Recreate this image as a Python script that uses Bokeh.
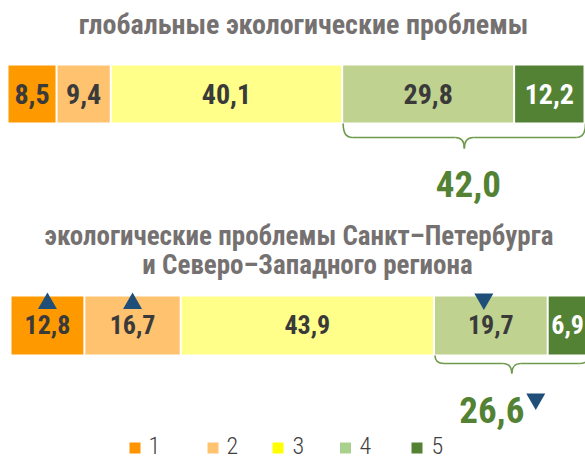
import numpy as np
from bokeh.plotting import figure
from bokeh.models import Range1d, ColumnDataSource
from bokeh.core.properties import value
from bokeh.embed import file_html
from bokeh.resources import INLINE

# ---------------- data ----------------
categories = ["1", "2", "3", "4", "5"]
global_vals = [8.5, 9.4, 40.1, 29.8, 12.2]
spb_vals = [12.8, 16.7, 43.9, 19.7, 6.9]
spb_change = ["up", "up", "", "down", ""]   # change markers for SPb bar
spb_sum_change = "down"
title_global = "глобальные экологические проблемы"
title_spb = ["экологические проблемы Санкт–Петербурга", "и Северо–Западного региона"]

# ---------------- style ----------------
bar_colors = ["#FF9900", "#FFC370", "#FFFF8A", "#BFD290", "#548235"]
legend_colors = ["#FF9400", "#FFC370", "#FFFF00", "#A9D18E", "#548235"]
label_colors = ["#3A3A3A", "#3A3A3A", "#3A3A3A", "#3A3A3A", "#FFFFFF"]
TITLE_C = "#767171"
GREEN = "#548235"
BRACE_C = "#6E9A4C"
ARROW_C = "#1F4E79"
FONT = "Roboto Condensed, Liberation Sans Narrow, DejaVu Sans Condensed, Roboto"
FONT_LIGHT = "Roboto Condensed Light, Roboto Condensed, Roboto"

W, H = 585, 459
X0 = 8                  # left pixel of the 0% mark
ux = 5.77               # pixels per percent
gap = 2 / ux


def fx(px):
    return (px - X0) / ux


def fmt(v):
    return f"{v:.1f}".replace(".", ",")


p = figure(width=W, height=H, x_range=Range1d(-X0 / ux, (W - X0) / ux), y_range=Range1d(H, 0),
           output_backend="svg", toolbar_location=None, min_border=0)
p.axis.visible = False
p.grid.visible = False
p.outline_line_color = None
p.background_fill_color = "white"


def draw_bar(vals, offset, top, bottom, fsize, label_y):
    v = np.array(vals)
    right = np.cumsum(v) + offset
    left = right - v
    src = ColumnDataSource(dict(left=left, right=right - gap, top=[top] * 5, bottom=[bottom] * 5,
                                color=bar_colors, lab=[fmt(x) for x in vals],
                                lc=label_colors, cx=(left + right - gap) / 2, ly=[label_y] * 5))
    p.quad(left="left", right="right", top="top", bottom="bottom", fill_color="color",
           line_color=None, source=src)
    p.text(x="cx", y="ly", text="lab", text_color="lc", text_align="center",
           text_baseline="middle", text_font=value(FONT), text_font_style="bold",
           text_font_size=fsize, source=src)
    return left, right


def draw_brace(x0, x1, ytop, ymid, ytip):
    r = 9 / ux
    xc = (x0 + x1) / 2
    p.quadratic(x0=[x0, xc - r, xc, x1 - r], y0=[ytop, ymid, ytip, ymid],
                x1=[x0 + r, xc, xc + r, x1], y1=[ymid, ytip, ymid, ytop],
                cx=[x0, xc, xc, x1], cy=[ymid, ymid, ymid, ymid],
                line_color=BRACE_C, line_width=1.6)
    p.segment(x0=[x0 + r, xc + r], y0=[ymid, ymid], x1=[xc - r, x1 - r], y1=[ymid, ymid],
              line_color=BRACE_C, line_width=1.6)
    return xc


# titles
p.text(x=[fx(303)], y=[23.5], text=[title_global], text_align="center",
       text_baseline="middle", text_font=value(FONT), text_font_style="bold",
       text_font_size="28px", text_color=TITLE_C)
p.text(x=[fx(298.5), fx(307)], y=[235, 264], text=title_spb, text_align="center",
       text_baseline="middle", text_font=value(FONT), text_font_style="bold",
       text_font_size="27px", text_color=TITLE_C)

# global bar
l1, r1 = draw_bar(global_vals, 0.0, 65, 122, "28px", 93)
xc1 = draw_brace(l1[3], r1[4], 123, 137, 148)
p.text(x=[xc1 + 4 / ux], y=[183], text=[fmt(global_vals[3] + global_vals[4])], text_align="center",
       text_baseline="middle", text_font=value(FONT), text_font_style="bold",
       text_font_size="37px", text_color=GREEN)

# SPb bar
off2 = 3 / ux
l2, r2 = draw_bar(spb_vals, off2, 296, 354, "26px", 324)
xc2 = draw_brace(l2[3], r2[4], 355, 363, 373)
p.text(x=[xc2 - 20 / ux], y=[409], text=[fmt(spb_vals[3] + spb_vals[4])], text_align="center",
       text_baseline="middle", text_font=value(FONT), text_font_style="bold",
       text_font_size="37px", text_color=GREEN)

# change markers
centers2 = (l2 + r2 - gap) / 2
up_x = [centers2[i] for i, c in enumerate(spb_change) if c == "up"]
dn_x = [centers2[i] - 7 / ux for i, c in enumerate(spb_change) if c == "down"]
p.scatter(x=up_x, y=[303.0] * len(up_x), marker="triangle", size=19,
          fill_color=ARROW_C, line_color=None)
p.scatter(x=dn_x, y=[298.5] * len(dn_x), marker="inverted_triangle", size=19,
          fill_color=ARROW_C, line_color=None)
if spb_sum_change == "down":
    p.scatter(x=[xc2 + 24 / ux], y=[398.5], marker="inverted_triangle", size=19,
              fill_color=ARROW_C, line_color=None)

# legend
leg_sq_px = [134.5, 212.5, 277.5, 345, 416.5]
leg_tx_px = [148, 226, 292, 359, 431]
p.scatter(x=[fx(v) for v in leg_sq_px], y=[447.5] * 5, marker="square", size=11,
          fill_color=legend_colors, line_color=None)
p.text(x=[fx(v) for v in leg_tx_px], y=[444.5] * 5, text=categories, text_align="left",
       text_baseline="middle", text_font=value(FONT_LIGHT), text_font_size="24px",
       text_color="#404040")

open("out.html", "w").write(file_html(p, INLINE))
